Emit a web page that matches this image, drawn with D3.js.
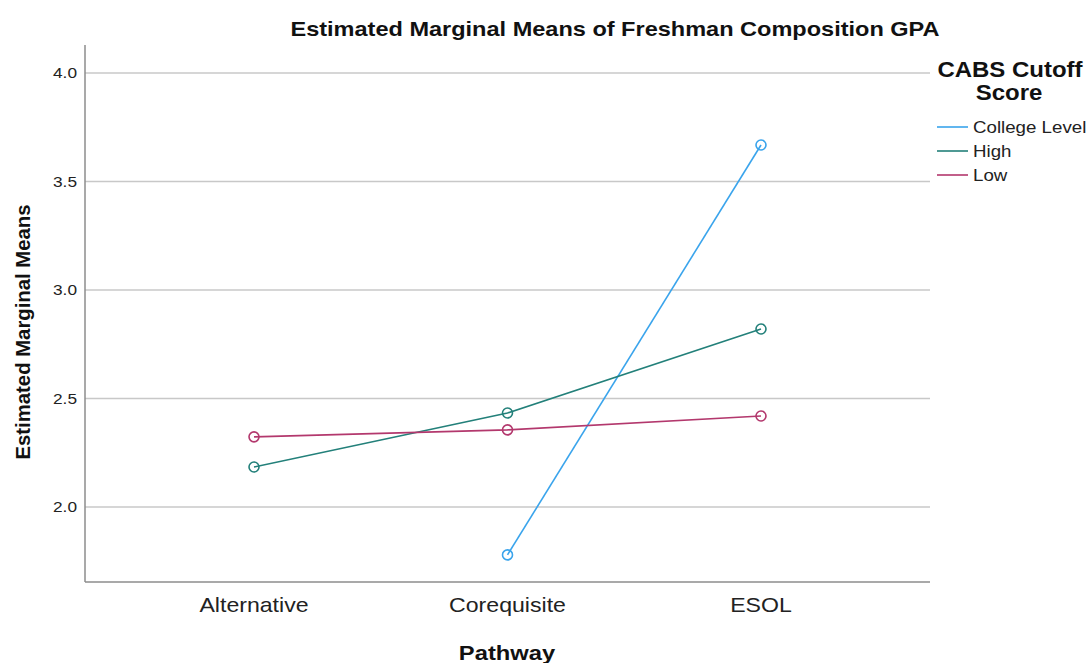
<!DOCTYPE html>
<html><head><meta charset="utf-8">
<script src="https://cdn.jsdelivr.net/npm/d3@7"></script>
<style>body{margin:0;background:#fff;font-family:"Liberation Sans",Arial,sans-serif}</style>
</head><body><svg id="c" width="1087" height="663"></svg>
<script>
const categories = ["Alternative", "Corequisite", "ESOL"];
const seriesNames = ["College Level", "High", "Low"];
const collegeLevel = [null, 1.779, 3.668];
const high = [2.184, 2.433, 2.820];
const low = [2.323, 2.355, 2.419];
const yTicks = [2.0, 2.5, 3.0, 3.5, 4.0];
const colors = ["#3aa4ec", "#23807a", "#b3386d"];

const svg = d3.select("#c");
const L = 85, R = 930, T = 45, B = 582;
const x = d3.scalePoint().domain(categories).range([L, R]).padding(0.6667);
const y = d3.scaleLinear().domain([1.654, 4.129]).range([B, T]);

function widen(sel, f) {
  sel.each(function() {
    const w = this.getComputedTextLength();
    d3.select(this).attr("textLength", w * f).attr("lengthAdjust", "spacingAndGlyphs");
  });
  return sel;
}

// gridlines
svg.append("g").selectAll("line").data(yTicks).join("line")
  .attr("x1", L).attr("x2", R).attr("y1", d => y(d)).attr("y2", d => y(d))
  .attr("stroke", "#c8c8c8").attr("stroke-width", 1.5);

// axes lines
svg.append("line").attr("x1", L).attr("x2", L).attr("y1", T).attr("y2", B).attr("stroke", "#8c8c8c").attr("stroke-width", 1.5);
svg.append("line").attr("x1", L).attr("x2", R).attr("y1", B).attr("y2", B).attr("stroke", "#8c8c8c").attr("stroke-width", 1.5);

// y tick labels
widen(svg.append("g").selectAll("text").data(yTicks).join("text")
  .attr("x", 77).attr("y", d => y(d)).attr("dy", "0.35em").attr("text-anchor", "end")
  .attr("font-size", 15).attr("fill", "#222").text(d => d.toFixed(1)), 1.15);

// x tick labels
widen(svg.append("g").selectAll("text").data(categories).join("text")
  .attr("x", d => x(d)).attr("y", 612).attr("text-anchor", "middle")
  .attr("font-size", 21).attr("fill", "#222").text(d => d), 1.1);

// titles
widen(svg.append("text").attr("x", 615).attr("y", 36).attr("text-anchor", "middle")
  .attr("font-size", 21).attr("font-weight", "bold").attr("fill", "#111")
  .text("Estimated Marginal Means of Freshman Composition GPA"), 1.12);
widen(svg.append("text").attr("x", 507).attr("y", 660).attr("text-anchor", "middle")
  .attr("font-size", 21).attr("font-weight", "bold").attr("fill", "#111").text("Pathway"), 1.13);
svg.append("text").attr("transform", "translate(30,332) rotate(-90)").attr("text-anchor", "middle")
  .attr("font-size", 20).attr("font-weight", "bold").attr("fill", "#111")
  .attr("textLength", 255).attr("lengthAdjust", "spacingAndGlyphs")
  .text("Estimated Marginal Means");

// series
const data = [collegeLevel, high, low];
const line = d3.line().defined(d => d.v !== null).x(d => x(d.c)).y(d => y(d.v));
data.forEach((vals, i) => {
  const pts = vals.map((v, j) => ({c: categories[j], v}));
  svg.append("path").datum(pts).attr("d", line).attr("fill", "none")
    .attr("stroke", colors[i]).attr("stroke-width", 1.6);
  svg.append("g").selectAll("circle").data(pts.filter(d => d.v !== null)).join("circle")
    .attr("cx", d => x(d.c)).attr("cy", d => y(d.v)).attr("r", 5)
    .attr("fill", "none").attr("stroke", colors[i]).attr("stroke-width", 1.6);
});

// legend
widen(svg.append("text").attr("x", 1010).attr("y", 77).attr("text-anchor", "middle")
  .attr("font-size", 22).attr("font-weight", "bold").attr("fill", "#111").text("CABS Cutoff"), 1.09);
widen(svg.append("text").attr("x", 1009).attr("y", 100).attr("text-anchor", "middle")
  .attr("font-size", 22).attr("font-weight", "bold").attr("fill", "#111").text("Score"), 1.09);
const lg = svg.append("g").selectAll("g").data(seriesNames).join("g")
  .attr("transform", (d, i) => `translate(0,${127 + i * 24})`);
lg.append("line").attr("x1", 937).attr("x2", 968).attr("stroke", (d, i) => colors[i]).attr("stroke-width", 1.6);
widen(lg.append("text").attr("x", 973).attr("dy", "0.35em").attr("font-size", 17).attr("fill", "#222").text(d => d), 1.1);
</script></body></html>
